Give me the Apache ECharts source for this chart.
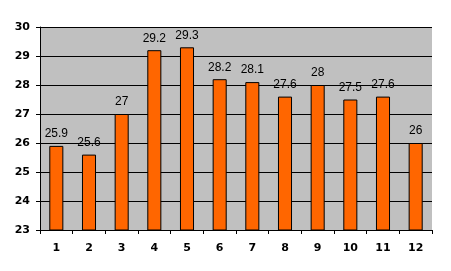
<!DOCTYPE html>
<html><head><meta charset="utf-8">
<script src="https://cdn.jsdelivr.net/npm/echarts@6/dist/echarts.min.js"></script>
<style>html,body{margin:0;padding:0;background:#fff}#c{width:451px;height:271px}</style>
</head><body><div id="c"></div>
<script>
const categories = ['1','2','3','4','5','6','7','8','9','10','11','12'];
const values = [25.9,25.6,27,29.2,29.3,28.2,28.1,27.6,28,27.5,27.6,26];
const yMin = 23, yMax = 30, yStep = 1;

const chart = echarts.init(document.getElementById('c'), null, {renderer:'canvas'});
chart.setOption({
  animation:false,
  backgroundColor:'#ffffff',
  grid:{left:40,right:19,top:27,bottom:41,show:true,backgroundColor:'#C0C0C0',borderWidth:0},
  xAxis:{
    type:'category', data:categories,
    axisLine:{show:true,lineStyle:{color:'#000',width:1}},
    axisTick:{show:true,alignWithLabel:false,length:4,lineStyle:{color:'#000'}},
    axisLabel:{color:'#000',fontFamily:'DejaVu Sans',fontWeight:'bold',fontSize:11,margin:13}
  },
  yAxis:{
    type:'value', min:yMin, max:yMax, interval:yStep,
    axisLine:{show:true,lineStyle:{color:'#000',width:1}},
    axisTick:{show:true,length:4,lineStyle:{color:'#000'}},
    splitLine:{show:true,lineStyle:{color:'#000',width:1}},
    axisLabel:{color:'#000',fontFamily:'DejaVu Sans',fontWeight:'bold',fontSize:11,margin:10}
  },
  series:[{
    type:'bar', data:values, barWidth:'43%',
    itemStyle:{color:'#FF6600',borderColor:'#000',borderWidth:1},
    label:{show:true,position:'top',distance:6,color:'#000',fontFamily:'Liberation Sans, Arial',fontSize:12}
  }]
});
</script></body></html>
